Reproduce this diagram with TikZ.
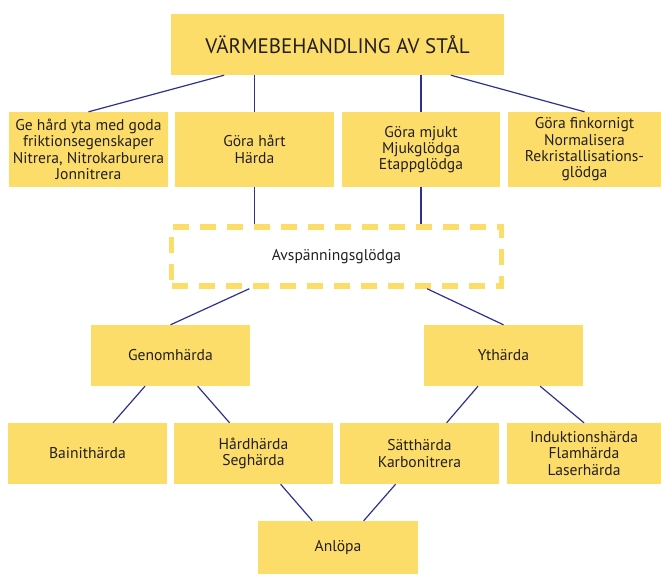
\documentclass[tikz,border=0pt]{standalone}
\usepackage{fontspec}
\setmainfont{PT Sans}
\usetikzlibrary{calc}

\definecolor{boxyellow}{RGB}{253,221,106}
\definecolor{linkblue}{RGB}{46,49,146}
\definecolor{textblack}{RGB}{35,31,32}

\tikzset{
    box/.style={fill=boxyellow, inner sep=0pt, align=center, text=textblack,
        font=\fontsize{15.6}{16.3}\selectfont},
    link/.style={draw=linkblue, line width=1.2pt},
}

\begin{document}
\begin{tikzpicture}[x=1pt, y=-1pt]
    \useasboundingbox (0,0) rectangle (661,574);
    % top
    \node[box, minimum width=333, minimum height=61, font=\fontsize{21}{24}\selectfont]
        (top) at (337.5,44.5) {VÄRMEBEHANDLING AV STÅL};
    % aims
    \node[box, minimum width=159, minimum height=75] (aim1) at (88.5,149.5)
        {Ge hård yta med goda\\friktionsegenskaper\\Nitrera, Nitrokarburera\\Jonnitrera};
    \node[box, minimum width=159, minimum height=75] (aim2) at (254.5,149.5) {Göra hårt\\Härda};
    \node[box, minimum width=158, minimum height=75] (aim3) at (421,149.5)
        {Göra mjukt\\Mjukglödga\\Etappglödga};
    \node[box, minimum width=153, minimum height=75] (aim4) at (584.5,149.5)
        {Göra finkornigt\\Normalisera\\Rekristallisations-\\glödga};
    % stress relief
    \node[box, fill=none, draw=boxyellow, line width=5.5pt, dash pattern=on 16pt off 11pt,
        minimum width=330, minimum height=59] (relax) at (336.5,256.5) {Avspänningsglödga};
    % hardening
    \node[box, minimum width=159, minimum height=61] (genom) at (170.5,355.5) {Genomhärda};
    \node[box, minimum width=159, minimum height=61] (yt) at (503.5,355.5) {Ythärda};
    \node[box, minimum width=159, minimum height=61] (hard1) at (87.5,453.5) {Bainithärda};
    \node[box, minimum width=159, minimum height=61] (hard2) at (253.5,453.5) {Hårdhärda\\Seghärda};
    \node[box, minimum width=159, minimum height=61] (hard3) at (419.5,453.5) {Sätthärda\\Karbonitrera};
    \node[box, minimum width=154, minimum height=61] (hard4) at (584,453.5)
        {Induktionshärda\\Flamhärda\\Laserhärda};
    \node[box, minimum width=160, minimum height=53] (anl) at (338,547.5) {Anlöpa};

    \draw[link] ($(top.south west)!.16!(top.south east)$) -- (aim1.north);
    \draw[link] (top.south -| aim2.north) -- (aim2.north);
    \draw[link] (top.south -| aim3.north) -- (aim3.north);
    \draw[link] ($(top.south west)!.84!(top.south east)$) -- (aim4.north);
    \draw[link] (aim2.south) -- (aim2.south |- relax.north);
    \draw[link] (aim3.south) -- (aim3.south |- relax.north);
    \draw[link] ($(relax.south west)!.24!(relax.south east)$) -- (genom.north);
    \draw[link] ($(relax.south west)!.77!(relax.south east)$) -- (yt.north);
    \draw[link] ($(genom.south west)!.34!(genom.south east)$) -- ($(hard1.north west)!.66!(hard1.north east)$);
    \draw[link] ($(genom.south west)!.67!(genom.south east)$) -- ($(hard2.north west)!.35!(hard2.north east)$);
    \draw[link] ($(yt.south west)!.34!(yt.south east)$) -- ($(hard3.north west)!.67!(hard3.north east)$);
    \draw[link] ($(yt.south west)!.73!(yt.south east)$) -- (hard4.north);
    \draw[link] ($(hard2.south west)!.67!(hard2.south east)$) -- ($(anl.north west)!.34!(anl.north east)$);
    \draw[link] ($(hard3.south west)!.35!(hard3.south east)$) -- ($(anl.north west)!.66!(anl.north east)$);
\end{tikzpicture}
\end{document}
